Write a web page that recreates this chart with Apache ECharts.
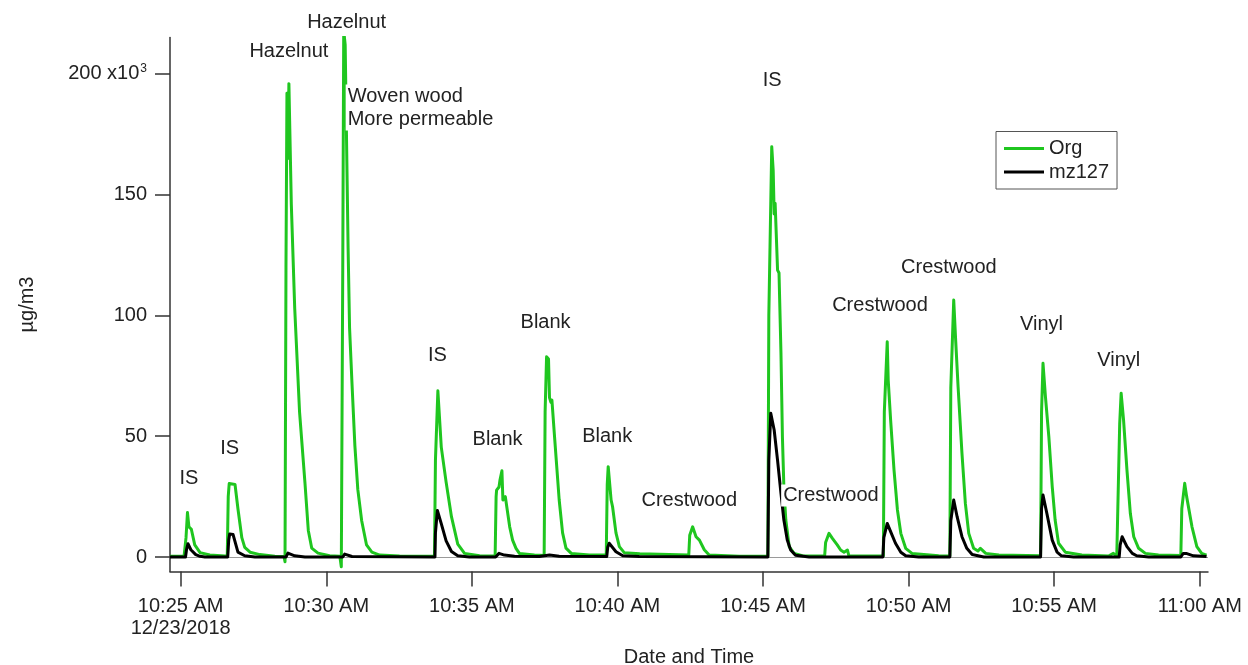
<!DOCTYPE html>
<html>
<head>
<meta charset="utf-8">
<script src="https://cdn.jsdelivr.net/npm/echarts@6/dist/echarts.min.js"></script>
<style>
  html, body { margin: 0; padding: 0; background: #fff; }
  #chart { width: 1248px; height: 665px; }
</style>
</head>
<body>
<div id="chart"></div>
<script>
// Org and mz127 concentrations (units of 10^3 µg/m3), sampled on 12/23/2018
const orgPoints = [
  ['10:24:38',0.3],['10:25:07',0.4],['10:25:11',8],['10:25:14',18.4],['10:25:17',12.5],['10:25:22',11.5],['10:25:29',5],['10:25:40',1.8],['10:26:00',0.8],['10:26:31',0.4],
  ['10:26:36',0.5],['10:26:38',25],['10:26:40',30.4],['10:26:52',30],['10:26:58',20],['10:27:06',8],['10:27:12',4],['10:27:23',2],['10:27:43',1],['10:28:14',0.3],
  ['10:28:33',0.2],['10:28:35',-2],['10:28:37',120],['10:28:39',192],['10:28:41',165],['10:28:43',196],['10:28:48',146],['10:28:55',103],['10:29:05',60],['10:29:16',31],['10:29:23',11],['10:29:30',3.7],['10:29:43',1.6],['10:30:07',0.5],
  ['10:30:28',0.3],['10:30:31',-4],['10:30:34',120],['10:30:36',218],['10:30:39',212],['10:30:42',170],['10:30:45',128],['10:30:48',95],['10:30:53',72],['10:30:59',46],['10:31:05',28],['10:31:13',15],['10:31:23',5],['10:31:34',2],['10:31:50',0.8],['10:32:31',0.4],
  ['10:33:43',0.3],['10:33:45',40],['10:33:50',68.8],['10:33:54',55.6],['10:33:57',45.5],['10:34:07',31],['10:34:18',16.7],['10:34:31',5.3],['10:34:45',1.5],['10:35:16',0.5],
  ['10:35:48',0.4],['10:35:50',25],['10:35:51',27.7],['10:35:56',29],['10:35:58',31.9],['10:36:02',35.7],['10:36:04',23.6],['10:36:09',25],['10:36:12',20.8],['10:36:18',12.5],['10:36:24',7],['10:36:31',3.6],['10:36:38',1.5],['10:37:09',0.8],
  ['10:37:29',0.6],['10:37:31',60],['10:37:34',82.9],['10:37:38',82],['10:37:40',66],['10:37:43',64],['10:37:45',65],['10:37:50',51],['10:37:54',40],['10:38:00',23.6],['10:38:07',10],['10:38:14',3.7],['10:38:25',1.5],['10:39:02',0.8],
  ['10:39:37',0.8],['10:39:39',30],['10:39:41',37.4],['10:39:45',37],['10:39:47',23.6],['10:39:50',20.8],['10:39:57',10],['10:40:04',4.3],['10:40:14',1.8],['10:40:46',1.3],
  ['10:42:27',0.8],['10:42:29',9],['10:42:35',12.5],['10:42:42',8.4],['10:42:49',7],['10:42:59',3],['10:43:09',0.8],['10:44:11',0.3],
  ['10:45:10',0.3],['10:45:12',100],['10:45:18',169.9],['10:45:21',160],['10:45:23',142],['10:45:25',146.5],['10:45:30',118.8],['10:45:33',117.6],['10:45:37',84.5],['10:45:40',49.8],['10:45:43',29],['10:45:47',15.3],['10:45:54',4.3],['10:46:04',1.5],['10:46:21',0.5],
  ['10:47:07',0.4],['10:47:09',6],['10:47:16',9.8],['10:47:23',7.7],['10:47:33',5],['10:47:40',2.9],['10:47:47',2],['10:47:54',2.9],['10:47:57',0.5],
  ['10:49:08',0.4],['10:49:10',60],['10:49:16',89.1],['10:49:18',73.3],['10:49:23',56.7],['10:49:30',36],['10:49:37',19.5],['10:49:44',9.8],['10:49:54',3.6],['10:50:07',1.5],['10:51:02',0.5],
  ['10:51:25',0.4],['10:51:27',70],['10:51:33',106.4],['10:51:37',89.8],['10:51:42',70.5],['10:51:50',42.9],['10:51:57',22.2],['10:52:04',9.8],['10:52:14',3.6],['10:52:23',2.5],['10:52:28',3.6],['10:52:39',1.5],['10:53:06',0.8],
  ['10:54:32',0.5],['10:54:34',60],['10:54:37',80.2],['10:54:42',66.4],['10:54:49',49.8],['10:54:56',29.1],['10:55:02',15.3],['10:55:09',5.7],['10:55:23',2],['10:55:57',0.8],
  ['10:56:52',0.4],['10:57:02',1.5],['10:57:09',0.3],['10:57:13',0.4],['10:57:15',55],['10:57:18',67.8],['10:57:23',56.7],['10:57:30',36],['10:57:37',18],['10:57:44',8.4],['10:57:54',3.6],['10:58:08',1.5],['10:58:35',0.8],
  ['10:59:21',0.6],['10:59:23',20],['10:59:29',30.5],['10:59:33',25],['10:59:44',12.5],['10:59:54',4.3],['11:00:04',1.5],['11:00:14',0.8]
];

const mzPoints = [
  ['10:24:38',0],['10:25:10',0],['10:25:12',3],['10:25:15',5.5],['10:25:21',3],['10:25:31',1],['10:25:40',0.3],['10:25:50',0],
  ['10:26:37',0],['10:26:39',7],['10:26:41',9.5],['10:26:48',9.3],['10:26:58',2],['10:27:12',0.5],['10:27:33',0],
  ['10:28:37',0],['10:28:41',1.6],['10:28:55',0.5],['10:29:16',0],
  ['10:30:34',0],['10:30:38',1.2],['10:30:53',0.2],
  ['10:33:44',0],['10:33:45',10],['10:33:49',19.3],['10:33:57',13.8],['10:34:07',6.7],['10:34:18',2.3],['10:34:31',0.5],['10:34:55',0],
  ['10:35:49',0],['10:35:56',1.5],['10:36:07',0.8],['10:36:28',0.3],['10:37:19',0.2],['10:37:40',0.8],['10:38:00',0.3],
  ['10:39:38',0.2],['10:39:40',4],['10:39:43',5.7],['10:39:57',2.2],['10:40:11',0.5],['10:40:45',0.2],
  ['10:45:10',0],['10:45:12',40],['10:45:16',59.5],['10:45:23',52.6],['10:45:30',40],['10:45:37',26.4],['10:45:43',15.3],['10:45:50',7],['10:45:57',2.9],['10:46:07',0.7],['10:46:35',0],
  ['10:49:07',0],['10:49:09',8],['10:49:16',13.9],['10:49:23',10.5],['10:49:33',5.7],['10:49:44',2],['10:49:54',0.5],['10:50:21',0],
  ['10:51:25',0],['10:51:27',15],['10:51:33',23.6],['10:51:40',16.7],['10:51:50',8.4],['10:52:00',3.6],['10:52:11',1],['10:52:35',0],
  ['10:54:32',0],['10:54:34',20],['10:54:37',25.7],['10:54:45',18],['10:54:56',7],['10:55:06',2],['10:55:15',0.5],['10:55:40',0],
  ['10:57:14',0],['10:57:16',5],['10:57:20',8.4],['10:57:30',4.3],['10:57:41',1.5],['10:57:50',0.5],['10:58:15',0],
  ['10:59:21',0],['10:59:26',1.5],['10:59:32',1.5],['10:59:47',0.5],['11:00:14',0.2]
];

// Sample tags: [time, value, text]
const sampleTags = [
  ['10:25:17', 32.7, 'IS'],
  ['10:26:41', 45.1, 'IS'],
  ['10:28:43', 209.5, 'Hazelnut'],
  ['10:30:42', 221.5, 'Hazelnut'],
  ['10:33:49', 83.4, 'IS'],
  ['10:35:53', 48.8, 'Blank'],
  ['10:37:32', 96.9, 'Blank'],
  ['10:39:39', 50.1, 'Blank'],
  ['10:42:28', 23.2, 'Crestwood'],
  ['10:45:19', 197.1, 'IS'],
  ['10:47:20', 25.5, 'Crestwood'],
  ['10:49:01', 104.1, 'Crestwood'],
  ['10:51:23', 120.0, 'Crestwood'],
  ['10:54:34', 96.3, 'Vinyl'],
  ['10:57:13', 81.2, 'Vinyl']
];
// Note attached to the second hazelnut run, left-aligned
const sideNotes = [
  ['10:30:40', 186.1, 'Woven wood\nMore permeable']
];

const xTickTimes = ['10:25:00','10:30:00','10:35:00','10:40:00','10:45:00','10:50:00','10:55:00','11:00:00'];
const yTickValues = [0, 50, 100, 150, 200];
const xRange = ['10:24:38', '11:00:17'];
const yRange = [-6, 215.1];

const FONT = 'Liberation Sans, Arial, sans-serif';
const TEXT = '#222';
const GREEN = '#1fc61f';

function toMs(hms) {
  const [h, m, s] = hms.split(':').map(Number);
  return new Date(2018, 11, 23, h, m, s).getTime();
}
function clock(ms) {
  const d = new Date(ms);
  let h = d.getHours();
  const ap = h >= 12 ? 'PM' : 'AM';
  h = h % 12; if (h === 0) h = 12;
  const mm = String(d.getMinutes()).padStart(2, '0');
  return h + ':' + mm + ' ' + ap;
}

const xTicks = xTickTimes.map(toMs);
const chart = echarts.init(document.getElementById('chart'), null, { renderer: 'canvas' });

const tagLabel = {
  show: true, position: 'inside',
  formatter: (p) => p.data[2],
  fontSize: 20, color: TEXT, fontFamily: FONT,
  backgroundColor: '#fff'
};

chart.setOption({
  backgroundColor: '#fff',
  animation: false,
  textStyle: { fontFamily: FONT },
  grid: { left: 170, top: 37.5, width: 1038, height: 534, containLabel: false, outerBoundsMode: 'none' },
  legend: {
    data: ['Org', 'mz127'],
    orient: 'vertical',
    left: 996, top: 131.5,
    padding: [7, 8, 7, 8],
    itemGap: 3.5,
    itemWidth: 40, itemHeight: 3,
    icon: 'rect',
    borderColor: '#555', borderWidth: 1,
    backgroundColor: '#fff',
    textStyle: { fontSize: 20, color: TEXT, fontFamily: FONT, lineHeight: 20 }
  },
  xAxis: {
    type: 'value',
    min: toMs(xRange[0]), max: toMs(xRange[1]),
    name: 'Date and Time',
    nameLocation: 'middle',
    nameGap: 76,
    nameTextStyle: { fontSize: 20, color: TEXT, fontFamily: FONT },
    axisLine: { show: true, onZero: false, lineStyle: { color: '#333', width: 1.5 } },
    axisTick: { show: true, inside: false, length: 15, customValues: xTicks, lineStyle: { color: '#333', width: 1.5 } },
    axisLabel: {
      customValues: xTicks,
      margin: 24,
      fontSize: 20, color: TEXT, fontFamily: FONT, lineHeight: 22,
      formatter: (v) => v === xTicks[0] ? clock(v) + '\n12/23/2018' : clock(v)
    },
    splitLine: { show: false }
  },
  yAxis: {
    type: 'value',
    min: yRange[0], max: yRange[1],
    name: 'µg/m3',
    nameLocation: 'middle',
    nameRotate: 90,
    nameGap: 133,
    nameTextStyle: { fontSize: 20, color: TEXT, fontFamily: FONT },
    axisLine: { show: true, onZero: false, lineStyle: { color: '#333', width: 1.5 } },
    axisTick: { show: true, inside: false, length: 15, customValues: yTickValues, lineStyle: { color: '#333', width: 1.5 } },
    axisLabel: {
      customValues: yTickValues,
      margin: 23,
      fontSize: 20, color: TEXT, fontFamily: FONT,
      formatter: (v) => v === 200 ? '{n|200 x10}{sup|3}' : '{n|' + v + '}',
      rich: {
        n: { fontSize: 20, color: TEXT, fontFamily: FONT },
        sup: { fontSize: 12, color: TEXT, fontFamily: FONT, verticalAlign: 'top', padding: [0, 0, 10, 1] }
      }
    },
    splitLine: { show: false }
  },
  series: [
    {
      name: 'Org',
      type: 'line',
      data: orgPoints.map(p => [toMs(p[0]), p[1]]),
      showSymbol: false, symbol: 'none',
      clip: true,
      lineStyle: { color: GREEN, width: 3, join: 'round' },
      itemStyle: { color: GREEN },
      z: 2,
      markLine: {
        silent: true, symbol: 'none', label: { show: false },
        lineStyle: { color: '#9a9a9a', width: 1, type: 'solid' },
        data: [{ yAxis: 0 }],
        z: 1
      }
    },
    {
      name: 'mz127',
      type: 'line',
      data: mzPoints.map(p => [toMs(p[0]), p[1]]),
      showSymbol: false, symbol: 'none',
      clip: true,
      lineStyle: { color: '#000', width: 3, join: 'round' },
      itemStyle: { color: '#000' },
      z: 3
    },
    {
      name: 'tags',
      type: 'scatter',
      clip: false,
      silent: true,
      symbolSize: 0,
      itemStyle: { opacity: 1 },
      data: sampleTags.map(t => [toMs(t[0]), t[1], t[2]]),
      label: Object.assign({ padding: [1, 2] }, tagLabel),
      z: 5
    },
    {
      name: 'notes',
      type: 'scatter',
      clip: false,
      silent: true,
      symbolSize: 0,
      itemStyle: { opacity: 1 },
      data: sideNotes.map(t => [toMs(t[0]), t[1], t[2]]),
      label: Object.assign({ align: 'left', lineHeight: 23, padding: [0, 2] }, tagLabel),
      z: 5
    }
  ]
});
</script>
</body>
</html>
